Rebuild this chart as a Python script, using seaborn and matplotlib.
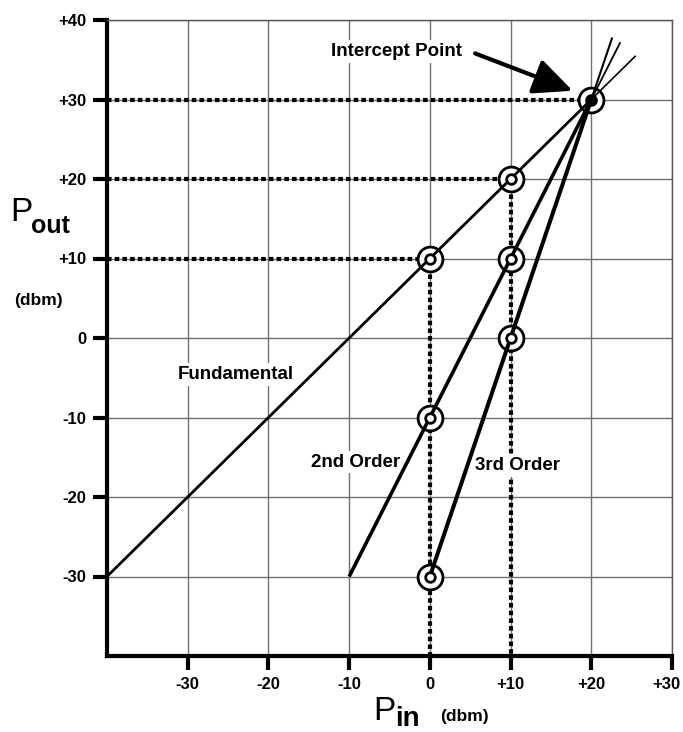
import numpy as np
import pandas as pd
import matplotlib
matplotlib.use("Agg")
import matplotlib.pyplot as plt
import matplotlib.transforms as mtransforms
import seaborn as sns

# transfer curves (Pin -> Pout, dbm)
fund_in = [-40, 20]
fund_out = [-30, 30]
second_in = [-10, 20]
second_out = [-30, 30]
third_in = [0, 20]
third_out = [-30, 30]

# thin extensions past the intercept
fund_ext_in = [20, 25.5]
fund_ext_out = [30, 35.5]
second_ext_in = [20, 23.6]
second_ext_out = [30, 37.2]
third_ext_in = [20, 22.6]
third_ext_out = [30, 37.8]

# measured points
pts_in = [0, 10, 0, 10, 10, 0]
pts_out = [10, 20, -10, 10, 0, -30]
icpt_in = [20]
icpt_out = [30]

# dotted guides
hguide_y = [30, 20, 10]
hguide_xend = [20, 10, 0]
vguide_x = [0, 10]
vguide_ytop = [10, 20]

xticks = [-30, -20, -10, 0, 10, 20, 30]
xlabels = ["-30", "-20", "-10", "0", "+10", "+20", "+30"]
yticks = [-30, -20, -10, 0, 10, 20, 30, 40]
ylabels = ["-30", "-20", "-10", "0", "+10", "+20", "+30", "+40"]

sns.set_style("white")
plt.rcParams["font.family"] = ["Liberation Sans", "DejaVu Sans"]
plt.rcParams["text.color"] = "black"
plt.rcParams["xtick.color"] = "black"
plt.rcParams["ytick.color"] = "black"

fig = plt.figure(figsize=(6.83, 7.32), dpi=100)
ax = fig.add_axes([107 / 683, 1 - 656 / 732, 565 / 683, 636 / 732])

ax.set_xlim(-40, 30)
ax.set_ylim(-40, 40)
ax.set_xticks(xticks)
ax.set_xticklabels(xlabels)
ax.set_yticks(yticks)
ax.set_yticklabels(ylabels)
ax.grid(True, color="#707070", lw=1)
ax.set_axisbelow(True)
ax.tick_params(axis="both", direction="out", length=10, width=3, color="black",
               labelsize=12, pad=5, bottom=True, left=True, labelcolor="black")
for lab in ax.get_xticklabels() + ax.get_yticklabels():
    lab.set_fontweight("bold")
last = ax.get_xticklabels()[-1]
last.set_transform(last.get_transform() +
                   mtransforms.ScaledTranslation(-4 / 72, 0, fig.dpi_scale_trans))
for side in ["left", "bottom"]:
    ax.spines[side].set_linewidth(3)
    ax.spines[side].set_color("black")
for side in ["top", "right"]:
    ax.spines[side].set_linewidth(1)
    ax.spines[side].set_color("#555555")

dot = (0, (1.1, 0.75))
for y, xe in zip(hguide_y, hguide_xend):
    ax.plot([-40, xe], [y, y], color="black", lw=3, ls=dot, zorder=2,
            dash_capstyle="butt")
for x, yt in zip(vguide_x, vguide_ytop):
    ax.plot([x, x], [yt, -40], color="black", lw=3, ls=dot, zorder=2,
            dash_capstyle="butt")

# outer rings under the lines
sns.scatterplot(x=pts_in + icpt_in, y=pts_out + icpt_out, s=320, color="white",
                edgecolor="black", linewidth=2, zorder=3, ax=ax)

for xi, yo, lw in [(fund_in, fund_out, 2.0), (second_in, second_out, 2.6),
                   (third_in, third_out, 2.9), (fund_ext_in, fund_ext_out, 1.2),
                   (second_ext_in, second_ext_out, 1.3),
                   (third_ext_in, third_ext_out, 1.5)]:
    sns.lineplot(x=xi, y=yo, color="black", lw=lw, zorder=4, ax=ax,
                 solid_capstyle="butt")

sns.scatterplot(x=pts_in, y=pts_out, s=48, color="white", edgecolor="black",
                linewidth=2, zorder=5, ax=ax)
sns.scatterplot(x=icpt_in, y=icpt_out, s=65, color="black", edgecolor="black",
                linewidth=1, zorder=5, ax=ax)

box = dict(facecolor="white", edgecolor="none", pad=2)
ax.text(-24, -4.6, "Fundamental", fontsize=13.5, fontweight="bold", ha="center",
        va="center", bbox=box, zorder=2.5)
ax.text(-9.2, -15.6, "2nd Order", fontsize=13.5, fontweight="bold", ha="center",
        va="center", bbox=box, zorder=2.5)
ax.text(10.9, -16.0, "3rd Order", fontsize=13.5, fontweight="bold", ha="center",
        va="center", bbox=box, zorder=2.5)
ax.text(-4.1, 36.0, "Intercept Point", fontsize=13.5, fontweight="bold",
        ha="center", va="center", bbox=box, zorder=2.5)
ax.annotate("", xy=(17.7, 31.1), xytext=(5.6, 35.8),
            arrowprops=dict(arrowstyle="-|>,head_length=1.2,head_width=0.55",
                            lw=3, color="black", shrinkA=0, shrinkB=0,
                            mutation_scale=20))

ax.set_xlabel("")
ax.set_ylabel("")

fig.text(10 / 683, 1 - 221 / 732, "P", fontsize=24, va="baseline", ha="left")
fig.text(31 / 683, 1 - 233 / 732, "out", fontsize=18, fontweight="bold",
         va="baseline", ha="left")
fig.text(38 / 683, 1 - 300 / 732, "(dbm)", fontsize=12.5, fontweight="bold",
         va="center", ha="center")
fig.text(373 / 683, 1 - 720 / 732, "P", fontsize=24, va="baseline", ha="left")
fig.text(395 / 683, 1 - 726 / 732, "in", fontsize=20, fontweight="bold",
         va="baseline", ha="left")
fig.text(464 / 683, 1 - 717 / 732, "(dbm)", fontsize=12.5, fontweight="bold",
         va="center", ha="center")

fig.savefig("out.png", dpi=100)
